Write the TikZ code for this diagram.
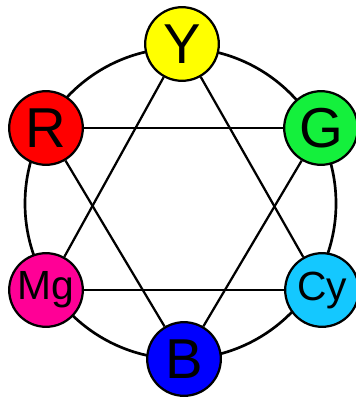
\documentclass[tikz,border=0pt]{standalone}
\usepackage{fontspec}
\setmainfont{Liberation Sans}
\usepackage{xcolor}
\usepackage{tikz}
\usetikzlibrary{positioning}
\definecolor{hueyellow}{RGB}{255, 255, 0}
\definecolor{huegreen}{RGB}{20, 240, 60}
\definecolor{huecyan}{RGB}{20, 200, 255}
\definecolor{hueblue}{RGB}{0, 0, 255}
\definecolor{huemagenta}{RGB}{255, 0, 150}
\definecolor{huered}{RGB}{255, 0, 0}

\begin{document}
\begin{tikzpicture}[x=0.025cm, y=-0.025cm,
    hue/.style={circle, draw=black, line width=1.6pt, minimum size=1.84cm, inner sep=0pt, font=\fontsize{40}{40}\selectfont},
    huesmall/.style={hue, font=\fontsize{29}{29}\selectfont},
    link/.style={line width=1.6pt}]
    \useasboundingbox (0,0) rectangle (355,400);
    % Outer wheel
    \draw[line width=1.9pt] (180.5,203.5) circle (155.5);
    
    % Colour nodes
    \node[hue, fill=hueyellow] (Y) at (182,44) {Y};
    \node[hue, fill=huegreen] (G) at (321,128) {G};
    \node[huesmall, fill=huecyan] (Cy) at (322,290) {Cy};
    \node[hue, fill=hueblue] (B) at (184,359) {B};
    \node[huesmall, fill=huemagenta] (Mg) at (46,290) {Mg};
    \node[hue, fill=huered] (R) at (46,128) {R};
    
    % Triangles
    \draw[link] (Y) -- (Mg);
    \draw[link] (Y) -- (Cy);
    \draw[link] (Mg) -- (Cy);
    \draw[link] (R) -- (G);
    \draw[link] (R) -- (B);
    \draw[link] (G) -- (B);
\end{tikzpicture}
\end{document}
